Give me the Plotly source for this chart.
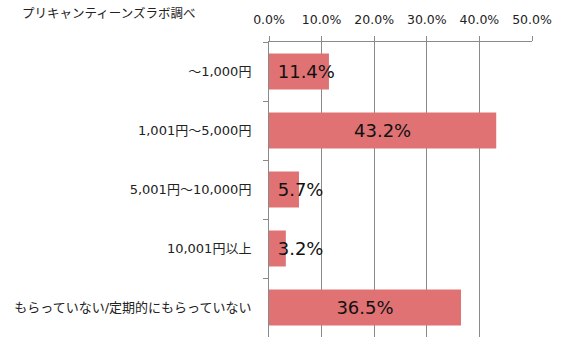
import plotly.graph_objects as go

categories = ["～1,000円", "1,001円～5,000円", "5,001円～10,000円", "10,001円以上", "もらっていない/定期的にもらっていない"]
values = [11.4, 43.2, 5.7, 3.2, 36.5]
x_ticks = [0, 10, 20, 30, 40, 50]
x_tick_labels = ["0.0%", "10.0%", "20.0%", "30.0%", "40.0%", "50.0%"]
title_text = "プリキャンティーンズラボ調べ"

FONT = "DejaVu Sans, Noto Sans CJK JP, sans-serif"
BAR_COLOR = "#E07274"
GRID = "#8a8a8a"

wide_idx = [i for i, v in enumerate(values) if v >= 20]
narrow_idx = [i for i, v in enumerate(values) if v < 20]

fig = go.Figure()
fig.add_trace(go.Bar(
    y=[categories[i] for i in narrow_idx], x=[values[i] for i in narrow_idx],
    orientation="h", marker=dict(color=BAR_COLOR, line=dict(width=0)),
    width=0.61, text=[" %.1f%%" % values[i] for i in narrow_idx],
    textposition="inside", insidetextanchor="start", constraintext="none", textangle=0,
    textfont=dict(family=FONT, size=18, color="#111"), hoverinfo="skip", cliponaxis=False,
))
fig.add_trace(go.Bar(
    y=[categories[i] for i in wide_idx], x=[values[i] for i in wide_idx],
    orientation="h", marker=dict(color=BAR_COLOR, line=dict(width=0)),
    width=0.61, text=["%.1f%%" % values[i] for i in wide_idx],
    textposition="inside", insidetextanchor="middle", constraintext="none", textangle=0,
    textfont=dict(family=FONT, size=18, color="#111"), hoverinfo="skip",
))

fig.update_layout(
    width=568, height=352,
    margin=dict(l=269, r=36, t=37, b=15),
    paper_bgcolor="white", plot_bgcolor="white",
    barmode="overlay", showlegend=False,
    font=dict(family=FONT, size=12, color="#222"),
    title=dict(text=title_text, x=22/568, xanchor="left", xref="container",
               y=1-14/352, yanchor="middle", yref="container",
               font=dict(family=FONT, size=12.5, color="#222")),
)
fig.update_xaxes(
    side="top", range=[0, 50], tickvals=x_ticks, ticktext=x_tick_labels,
    showgrid=True, gridcolor=GRID, gridwidth=1, zeroline=False,
    showline=True, linecolor=GRID, linewidth=1,
    ticks="outside", ticklen=5, tickcolor=GRID, tickfont=dict(size=12.5, color="#222"),
    ticklabelstandoff=7,
)
fig.update_yaxes(
    type="category", categoryorder="array", categoryarray=categories, autorange="reversed",
    showline=True, linecolor=GRID, linewidth=1, showgrid=False, zeroline=False,
    ticks="outside", ticklen=5, tickcolor=GRID, tickson="boundaries",
    tickfont=dict(size=13, color="#222"), ticklabelstandoff=14,
)

fig.write_html("out.html")
